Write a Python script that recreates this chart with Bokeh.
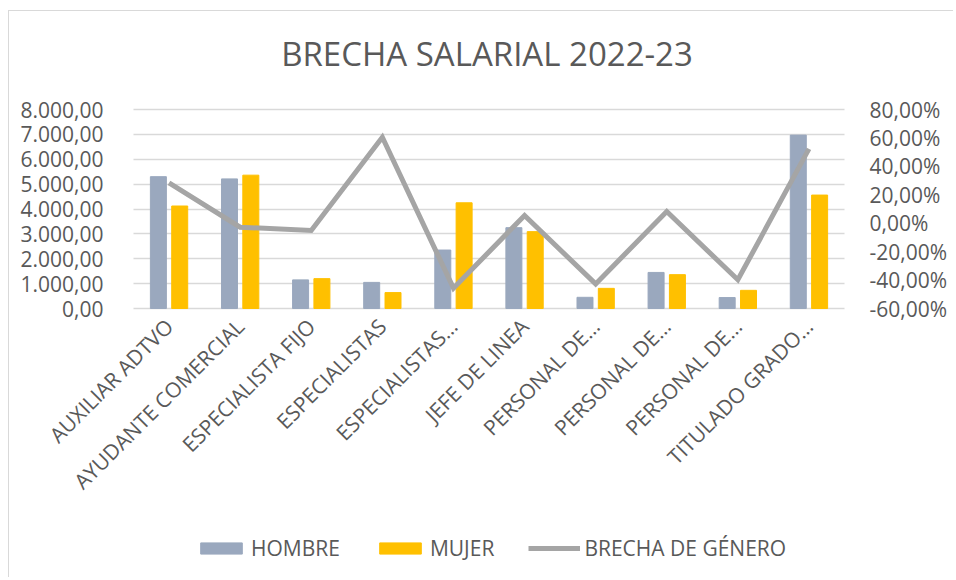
import numpy as np
from bokeh.plotting import figure
from bokeh.models import (ColumnDataSource, Range1d, LinearAxis, SingleIntervalTicker,
                          FixedTicker, CustomJSTickFormatter, Legend, LegendItem, Label, Grid)
from bokeh.transform import dodge
from bokeh.embed import file_html
from bokeh.resources import INLINE

categories = ["AUXILIAR ADTVO", "AYUDANTE COMERCIAL", "ESPECIALISTA FIJO", "ESPECIALISTAS",
              "ESPECIALISTAS…", "JEFE DE LINEA", "PERSONAL DE…", "PERSONAL DE…",
              "PERSONAL DE…", "TITULADO GRADO…"]
hombre = [5300, 5210, 1150, 1050, 2350, 3250, 450, 1450, 440, 6970]
mujer = [4120, 5360, 1200, 640, 4250, 3090, 810, 1360, 730, 4560]
brecha = [28.4, -2.8, -5.1, 60.5, -45.7, 5.4, -42.7, 8.2, -39.8, 52.3]
y_max, pct_min, pct_max = 8000, -60, 80

FONT = "Open Sans"
TXT = "#595959"

# layout geometry (page pixels)
W, H = 945, 567                 # canvas size
CL, CT = 9, 11                  # canvas origin on page (margin + border)
PL, PR = 133, 844               # plot area left / right
PB, PT = 308, 109               # plot area bottom / top

n = len(categories)
kx = n / (PR - PL)
ky = y_max / (PB - PT)
kp = (pct_max - pct_min) / (PB - PT)
x_rng = Range1d((CL - PL) * kx, (CL + W - PL) * kx)
y_rng = Range1d(-(CT + H - PB) * ky, (PB - CT) * ky)
p_rng = Range1d(pct_min - (CT + H - PB) * kp, pct_min + (PB - CT) * kp)

xs = np.arange(n) + 0.5
src = ColumnDataSource(dict(x=xs, h=hombre, m=mujer, b=brecha))

p = figure(width=W, height=H, output_backend="svg", toolbar_location=None,
           x_range=x_rng, y_range=y_rng, min_border=0)
p.extra_y_ranges = {"pct": p_rng}
p.outline_line_color = None
p.xgrid.grid_line_color = None

hb = p.vbar(x=dodge("x", -0.15), top="h", width=0.225, source=src, color="#9aa8be")
mb = p.vbar(x=dodge("x", 0.15), top="m", width=0.225, source=src, color="#ffc000")
ln = p.line(x="x", y="b", source=src, y_range_name="pct", line_color="#a5a5a5",
            line_width=5, line_join="miter")

# left axis
ya = p.yaxis[0]
ya.ticker = SingleIntervalTicker(interval=1000)
ya.formatter = CustomJSTickFormatter(code="""
const s = tick.toFixed(2).split('.');
const i = s[0].replace(/\\B(?=(\\d{3})+(?!\\d))/g, '.');
return i + ',' + s[1];
""")
ya.fixed_location = 0
ya.bounds = (0, y_max)
ya.major_label_standoff = 24

# right axis
ra = LinearAxis(y_range_name="pct", ticker=SingleIntervalTicker(interval=20),
                formatter=CustomJSTickFormatter(code="return tick.toFixed(2).replace('.', ',') + '%';"))
ra.fixed_location = n
ra.bounds = (pct_min, pct_max)
ra.major_label_standoff = 19
p.add_layout(ra, "right")

# bottom axis
xa = p.xaxis[0]
xa.ticker = FixedTicker(ticks=list(xs))
xa.formatter = CustomJSTickFormatter(args=dict(labels=categories),
                                     code="return labels[Math.floor(tick)];")
xa.major_label_orientation = np.pi / 4
xa.fixed_location = 0
xa.bounds = (0, n)
xa.major_label_standoff = 8

for ax in (ya, ra, xa):
    ax.axis_line_color = None
    ax.major_tick_line_color = None
    ax.minor_tick_line_color = None
    ax.major_label_text_font = FONT
    ax.major_label_text_font_size = "21px"
    ax.major_label_text_color = TXT

g = p.ygrid[0]
g.bounds = (0, y_max)
if "cross_bounds" in Grid.properties():
    g.cross_bounds = (0, n)
g.grid_line_color = "#d9d9d9"
g.grid_line_width = 1.5

title = Label(x=n / 2, y=(PB - 53) * ky, text="BRECHA SALARIAL 2022-23",
              text_align="center", text_baseline="middle", x_offset=-2,
              text_font=FONT, text_font_size="33px", text_color=TXT)
p.add_layout(title)

legend = Legend(items=[LegendItem(label="HOMBRE", renderers=[hb]),
                       LegendItem(label="MUJER", renderers=[mb]),
                       LegendItem(label="BRECHA DE GÉNERO", renderers=[ln])],
                orientation="horizontal", location=(195 - CL, CT + H - 562),
                glyph_width=52, glyph_height=14, label_standoff=4, spacing=34,
                padding=0, margin=0, border_line_color=None, background_fill_alpha=0,
                label_text_font=FONT, label_text_font_size="21px", label_text_color=TXT)
p.add_layout(legend, "center")

p.styles = {"margin-left": "8px", "margin-top": "10px",
            "border-left": "1px solid #d9d9d9", "border-top": "1px solid #d9d9d9"}

open("out.html", "w").write(file_html(p, INLINE))
